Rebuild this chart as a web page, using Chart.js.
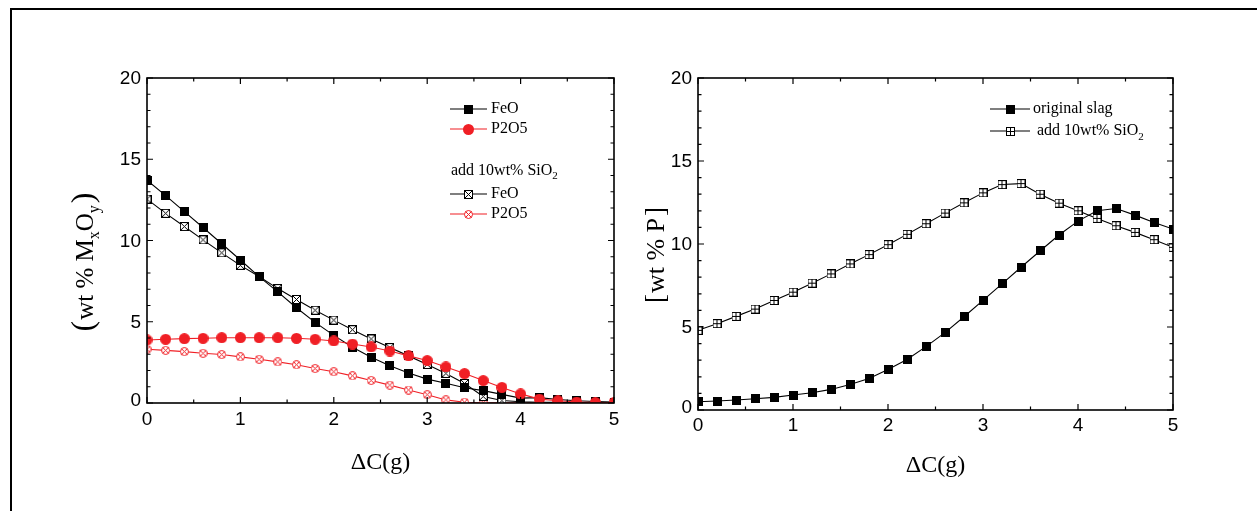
<!DOCTYPE html>
<html><head><meta charset="utf-8">
<script src="https://cdn.jsdelivr.net/npm/chart.js@4.4.0/dist/chart.umd.min.js"></script>
<style>
html,body{margin:0;padding:0;background:#fff;overflow:hidden;width:1257px;height:511px}
#frame{position:absolute;left:10px;top:8px;width:1300px;height:600px;border:2px solid #000;box-sizing:border-box}
canvas{position:absolute;top:0}
</style></head><body>
<div id="frame"></div>
<canvas id="c1" width="640" height="511" style="left:0"></canvas>
<canvas id="c2" width="617" height="511" style="left:640px"></canvas>
<script>
// ---------- data ----------
const xValues = [0,0.2,0.4,0.6,0.8,1.0,1.2,1.4,1.6,1.8,2.0,2.2,2.4,2.6,2.8,3.0,3.2,3.4,3.6,3.8,4.0,4.2,4.4,4.6,4.8,5.0];
const feoOriginal  = [13.71,12.76,11.78,10.80,9.80,8.80,7.78,6.84,5.86,4.96,4.16,3.43,2.82,2.29,1.84,1.47,1.22,0.94,0.76,0.53,0.30,0.33,0.22,0.14,0.09,0.06];
const p2o5Original = [3.88,3.92,3.96,3.98,4.02,4.02,4.02,4.02,3.98,3.92,3.82,3.63,3.45,3.20,2.90,2.61,2.22,1.81,1.38,0.96,0.56,0.24,0.14,0.06,0.03,0.02];
const feoSiO2      = [12.55,11.67,10.86,10.04,9.24,8.47,7.78,7.04,6.37,5.71,5.10,4.51,3.94,3.41,2.90,2.37,1.82,1.20,0.40,0.15,0.08,0.05,0.04,0.03,0.02,0.02];
const p2o5SiO2     = [3.31,3.24,3.16,3.06,2.98,2.84,2.69,2.53,2.35,2.12,1.92,1.67,1.39,1.10,0.80,0.51,0.19,0.05,0.02,0.01,0.01,0,0,0,0,0];
const pOriginal    = [0.50,0.54,0.60,0.68,0.76,0.90,1.04,1.24,1.54,1.90,2.44,3.04,3.82,4.66,5.62,6.60,7.60,8.60,9.58,10.54,11.38,12.00,12.14,11.74,11.30,10.90];
const pSiO2        = [4.80,5.20,5.64,6.08,6.60,7.10,7.64,8.20,8.80,9.36,9.96,10.58,11.22,11.86,12.48,13.08,13.58,13.64,13.00,12.46,12.00,11.54,11.10,10.70,10.26,9.80];
const xTickValues = [0,1,2,3,4,5];
const xTickLabels = ['0','1','2','3','4','5'];
const yTickValues = [0,5,10,15,20];
const yTickLabels = ['0','5','10','15','20'];
const leftLegendLabels = ['FeO','P2O5','FeO','P2O5'];
const leftLegendHeader = 'add 10wt% SiO';
const rightLegendLabels = ['original slag',' add 10wt% SiO'];
const xTitle = '\u0394C(g)';

// ---------- styles ----------
const RED = '#f01f25';
const SERIF = "'Liberation Serif','Times New Roman',serif";
const SANS = "'Liberation Sans',Arial,sans-serif";

function marker(kind, color, size){
  const c = document.createElement('canvas');
  c.width = size; c.height = size;
  const g = c.getContext('2d');
  const s = size, h = s/2;
  g.lineWidth = 1;
  if (kind === 'fillSquare'){ g.fillStyle = color; g.fillRect(0,0,s,s); }
  else if (kind === 'fillCircle'){ g.fillStyle = color; g.beginPath(); g.arc(h,h,h,0,Math.PI*2); g.fill(); }
  else if (kind === 'crossSquare'){
    g.fillStyle='#fff'; g.fillRect(0,0,s,s);
    g.strokeStyle=color; g.strokeRect(0.5,0.5,s-1,s-1);
    g.beginPath(); g.moveTo(1,1); g.lineTo(s-1,s-1); g.moveTo(s-1,1); g.lineTo(1,s-1); g.stroke();
  } else if (kind === 'crossCircle'){
    g.fillStyle='#fff'; g.beginPath(); g.arc(h,h,h-0.5,0,Math.PI*2); g.fill();
    g.strokeStyle=color; g.stroke();
    const d = (h-0.5)*0.72;
    g.beginPath(); g.moveTo(h-d,h-d); g.lineTo(h+d,h+d); g.moveTo(h+d,h-d); g.lineTo(h-d,h+d); g.stroke();
  } else if (kind === 'plusSquare'){
    g.fillStyle='#fff'; g.fillRect(0,0,s,s);
    g.strokeStyle=color; g.strokeRect(0.5,0.5,s-1,s-1);
    g.beginPath(); g.moveTo(h,0); g.lineTo(h,s); g.moveTo(0,h); g.lineTo(s,h); g.stroke();
  }
  return c;
}
const mFillSqL = marker('fillSquare','#000',9);
const mFillCircle = marker('fillCircle',RED,11);
const mCrossSq = marker('crossSquare','#000',9);
const mCrossCircle = marker('crossCircle',RED,9);
const mFillSqR = marker('fillSquare','#000',9);
const mPlusSq = marker('plusSquare','#000',9);

function pts(arr){ return xValues.map((x,i)=>({x:x, y:arr[i]})); }
function ds(arr, color, pm, order){
  return {data: pts(arr), borderColor: color, backgroundColor: color, borderWidth: 1.1,
          pointStyle: pm, pointRadius: 4, pointHoverRadius: 4, tension: 0, order: order};
}

function drawParts(ctx, parts, x, y){
  let cx = x;
  for (const p of parts){
    ctx.font = p.font;
    ctx.fillText(p.t, cx, y + (p.dy||0));
    cx += ctx.measureText(p.t).width + (p.gap||0);
  }
  return cx - x;
}
function measureParts(ctx, parts){
  let w = 0;
  for (const p of parts){ ctx.font = p.font; w += ctx.measureText(p.t).width + (p.gap||0); }
  return w;
}

function drawFrameTicks(chart, cfg){
  const ctx = chart.ctx;
  const {left,right,top,bottom} = chart.chartArea;
  const xs = chart.scales.x, ys = chart.scales.y;
  ctx.save();
  ctx.strokeStyle = '#000';
  ctx.lineWidth = 1.2;
  ctx.beginPath();
  for (let i=0;i<=10;i++){
    const v = i*0.5, px = xs.getPixelForValue(v), len = (i%2===0)?6:3.5;
    ctx.moveTo(px,bottom); ctx.lineTo(px,bottom-len);
    ctx.moveTo(px,top); ctx.lineTo(px,top+len);
  }
  for (let i=0;i<=20;i++){
    const py = ys.getPixelForValue(i), len = (i%5===0)?6:3.5;
    ctx.moveTo(left,py); ctx.lineTo(left+len,py);
    ctx.moveTo(right,py); ctx.lineTo(right-len,py);
  }
  ctx.stroke();
  ctx.lineWidth = 1.6;
  ctx.strokeRect(left,top,right-left,bottom-top);
  // tick labels
  ctx.fillStyle = '#000';
  ctx.font = '19px ' + SANS;
  ctx.textAlign = 'center'; ctx.textBaseline = 'middle';
  xTickValues.forEach((v,i)=>{ ctx.fillText(xTickLabels[i], xs.getPixelForValue(v), bottom + cfg.xLabelOff); });
  ctx.textAlign = 'right';
  yTickValues.forEach((v,i)=>{ ctx.fillText(yTickLabels[i], left - 6, ys.getPixelForValue(v) + (v===0?-2:1)); });
  // x title
  ctx.font = '24px ' + SERIF;
  ctx.textAlign = 'center';
  ctx.fillText(xTitle, (left+right)/2, cfg.xTitleY);
  ctx.restore();
}

function legendRow(ctx, y, x0, x1, color, mk, text, textX){
  ctx.save();
  ctx.strokeStyle = color; ctx.lineWidth = 1.1;
  ctx.beginPath(); ctx.moveTo(x0,y); ctx.lineTo(x1,y); ctx.stroke();
  const mx = (x0+x1)/2;
  ctx.drawImage(mk, Math.round(mx - mk.width/2), Math.round(y - mk.height/2));
  ctx.fillStyle = '#000';
  ctx.font = '16px ' + SERIF;
  ctx.textAlign = 'left'; ctx.textBaseline = 'middle';
  ctx.fillText(text, textX, y);
  ctx.restore();
}

const leftDecor = {
  id: 'leftDecor',
  afterDraw(chart){
    const ctx = chart.ctx;
    drawFrameTicks(chart, {xLabelOff: 17, xTitleY: 463});
    // legend
    legendRow(ctx, 109, 450, 487, '#000', mFillSqL, leftLegendLabels[0], 491);
    legendRow(ctx, 129, 450, 487, RED, mFillCircle, leftLegendLabels[1], 491);
    ctx.save();
    ctx.fillStyle = '#000'; ctx.textAlign='left'; ctx.textBaseline='alphabetic';
    drawParts(ctx, [{t:leftLegendHeader, font:'16px '+SERIF},{t:'2', font:'11px '+SERIF, dy:4}], 451, 175);
    ctx.restore();
    legendRow(ctx, 194, 450, 487, '#000', mCrossSq, leftLegendLabels[2], 491);
    legendRow(ctx, 214, 450, 487, RED, mCrossCircle, leftLegendLabels[3], 491);
    // y title
    ctx.save();
    ctx.fillStyle = '#000';
    ctx.translate(85, 262); ctx.rotate(-Math.PI/2);
    const parts = [
      {t:'(', font:'32px '+SERIF, gap:1},
      {t:'wt', font:'25px '+SERIF},
      {t:' % ', font:'25px '+SERIF},
      {t:'M', font:'25px '+SERIF},
      {t:'x', font:'16px '+SERIF, dy:6},
      {t:'O', font:'25px '+SERIF},
      {t:'y', font:'16px '+SERIF, dy:6, gap:2},
      {t:')', font:'32px '+SERIF}
    ];
    const w = measureParts(ctx, parts);
    ctx.textBaseline = 'alphabetic';
    drawParts(ctx, parts, -w/2, 8);
    ctx.restore();
  }
};

const rightDecor = {
  id: 'rightDecor',
  afterDraw(chart){
    const ctx = chart.ctx;
    drawFrameTicks(chart, {xLabelOff: 16, xTitleY: 466});
    legendRow(ctx, 109, 350, 390, '#000', mFillSqR, rightLegendLabels[0], 393);
    ctx.save();
    ctx.strokeStyle = '#000'; ctx.lineWidth = 1.1;
    ctx.beginPath(); ctx.moveTo(350,131); ctx.lineTo(390,131); ctx.stroke();
    ctx.drawImage(mPlusSq, Math.round(370 - mPlusSq.width/2), Math.round(131 - mPlusSq.height/2));
    ctx.fillStyle='#000'; ctx.textAlign='left'; ctx.textBaseline='middle';
    drawParts(ctx, [{t:rightLegendLabels[1], font:'16px '+SERIF},{t:'2', font:'11px '+SERIF, dy:6}], 393, 131);
    ctx.restore();
    // y title
    ctx.save();
    ctx.fillStyle = '#000';
    ctx.translate(16, 255); ctx.rotate(-Math.PI/2);
    const parts = [
      {t:'[', font:'27px '+SERIF, gap:1},
      {t:'wt % P', font:'26px '+SERIF, gap:2},
      {t:']', font:'27px '+SERIF}
    ];
    const w = measureParts(ctx, parts);
    ctx.textBaseline = 'alphabetic';
    drawParts(ctx, parts, -w/2, 8);
    ctx.restore();
  }
};

function baseOptions(pad){
  return {
    responsive: false, animation: false, devicePixelRatio: 1,
    layout: {padding: pad},
    plugins: {legend: {display:false}, tooltip: {enabled:false}},
    events: [],
    scales: {
      x: {type:'linear', min:0, max:5, display:false},
      y: {type:'linear', min:0, max:20, display:false}
    }
  };
}

new Chart(document.getElementById('c1'), {
  type: 'line',
  data: {datasets: [
    ds(feoOriginal, '#000', mFillSqL, 2),
    ds(p2o5Original, RED, mFillCircle, 1),
    ds(feoSiO2, '#000', mCrossSq, 3),
    ds(p2o5SiO2, RED, mCrossCircle, 4)
  ]},
  options: baseOptions({left:147, right:26, top:78, bottom:108}),
  plugins: [leftDecor]
});

new Chart(document.getElementById('c2'), {
  type: 'line',
  data: {datasets: [
    ds(pOriginal, '#000', mFillSqR, 1),
    ds(pSiO2, '#000', mPlusSq, 2)
  ]},
  options: baseOptions({left:58, right:84, top:78, bottom:101}),
  plugins: [rightDecor]
});
</script>
</body></html>
